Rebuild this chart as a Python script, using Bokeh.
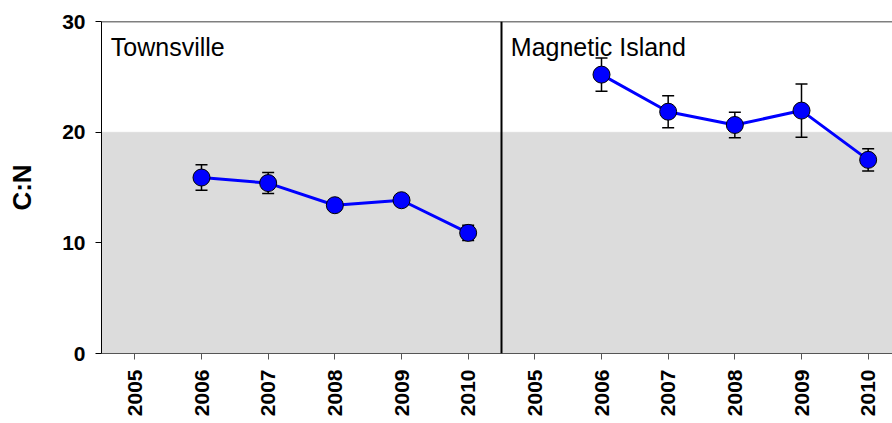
import math
from bokeh.plotting import figure
from bokeh.models import ColumnDataSource, Whisker, TeeHead, Span, FixedTicker, Range1d, BoxAnnotation
from bokeh.core.properties import value
from bokeh.embed import file_html
from bokeh.resources import INLINE

years = [2006, 2007, 2008, 2009, 2010]
tick_years = [2005, 2006, 2007, 2008, 2009, 2010]
townsville_cn = [15.9, 15.4, 13.4, 13.85, 10.9]
townsville_err = [1.15, 0.95, 0.4, 0.3, 0.7]
magnetic_cn = [25.2, 21.85, 20.65, 21.95, 17.5]
magnetic_err = [1.5, 1.45, 1.15, 2.4, 1.0]
panels = ["Townsville", "Magnetic Island"]
threshold = 20

p = figure(width=892, height=423, output_backend="svg", toolbar_location=None,
           x_range=Range1d(0, 11.865), y_range=Range1d(0, 30),
           min_border_left=101, min_border_right=0, min_border_top=21, min_border_bottom=70)
p.xgrid.visible = False
p.ygrid.visible = False
p.outline_line_color = None
p.background_fill_color = "white"

p.add_layout(BoxAnnotation(bottom=0, top=threshold, fill_color="#dcdcdc", fill_alpha=1.0, level="underlay"))
p.add_layout(Span(location=30, dimension="width", line_color="black", line_width=1.5))
p.add_layout(Span(location=6, dimension="height", line_color="black", line_width=2))

tick_pos = []
labels = {}
for k in range(2):
    for yv in tick_years:
        pos = yv - 2004.5 + 6 * k
        tick_pos.append(pos)
        labels[pos] = str(yv)
p.xaxis.ticker = FixedTicker(ticks=tick_pos)
p.xaxis.major_label_overrides = labels
p.xaxis.major_label_orientation = math.pi / 2
p.yaxis.ticker = FixedTicker(ticks=[0, 10, 20, 30])
for ax in (p.xaxis, p.yaxis):
    ax.minor_tick_line_color = None
    ax.major_tick_out = 6
    ax.major_tick_in = 0
    ax.major_label_text_font = "Liberation Sans"
    ax.major_label_text_font_style = "bold"
    ax.major_label_text_color = "black"
    ax.major_label_text_font_size = "21px"
p.xaxis.axis_line_color = "#555555"
p.xaxis.major_tick_line_color = "#555555"
p.yaxis.axis_line_color = "black"
p.xaxis.major_label_standoff = 10
p.yaxis.major_label_standoff = 10
p.yaxis.axis_label = "C:N"
p.yaxis.axis_label_text_font = "Liberation Sans"
p.yaxis.axis_label_text_font_style = "bold"
p.yaxis.axis_label_text_font_size = "26px"
p.yaxis.axis_label_text_color = "black"
p.yaxis.axis_label_standoff = 22

for k, (vals, errs) in enumerate([(townsville_cn, townsville_err), (magnetic_cn, magnetic_err)]):
    xs = [yv - 2004.5 + 6 * k for yv in years]
    src = ColumnDataSource(dict(x=xs, y=vals, lo=[v - e for v, e in zip(vals, errs)],
                                hi=[v + e for v, e in zip(vals, errs)]))
    w = Whisker(source=src, base="x", lower="lo", upper="hi", line_color="black", line_width=1.5,
                upper_head=TeeHead(size=12, line_color="black", line_width=1.5),
                lower_head=TeeHead(size=12, line_color="black", line_width=1.5))
    p.add_layout(w)
    p.line("x", "y", source=src, line_color="blue", line_width=3)
    p.scatter("x", "y", source=src, size=17, fill_color="blue", line_color="black", line_width=1)
    p.text(x=[0.14 + 6 * k], y=[27.7], text=[panels[k]], text_font=value("Liberation Sans"),
           text_font_size="25px", text_baseline="alphabetic", text_align="left", text_color="black")

open("out.html", "w").write(file_html(p, INLINE))
